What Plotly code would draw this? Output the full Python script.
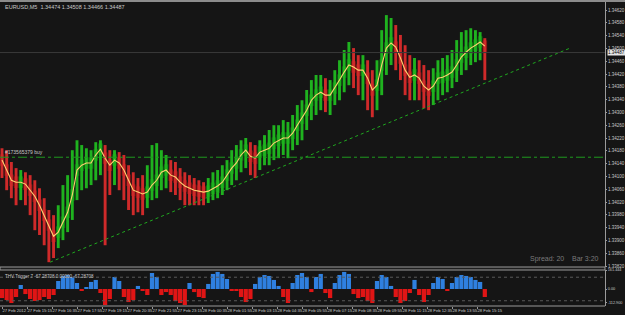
import pandas as pd
import plotly.graph_objects as go
from plotly.subplots import make_subplots

header_text = "EURUSD,M5  1.34474 1.34508 1.34466 1.34487"
indicator_text = "THV Trigger 7 -67.28708 0.00000 -67.28708"
order_text = "#173565379 buy"
status_text = "Spread: 20    Bar 3:20"

first_bar = "2012-02-27 13:55"
bar_freq = "15min"

# smoothed (yellow) average, bar highs and lows
ma = [1.34151, 1.34120, 1.34088, 1.34082, 1.34082, 1.34076, 1.34057, 1.34038, 1.34010, 1.33979,
      1.33948, 1.33913, 1.33926, 1.33957, 1.33988, 1.34042, 1.34120, 1.34135, 1.34142, 1.34142,
      1.34167, 1.34185, 1.34157, 1.34135, 1.34151, 1.34142, 1.34120, 1.34088, 1.34057, 1.34051,
      1.34045, 1.34051, 1.34073, 1.34088, 1.34113, 1.34120, 1.34104, 1.34098, 1.34082, 1.34070,
      1.34063, 1.34057, 1.34054, 1.34051, 1.34054, 1.34063, 1.34070, 1.34082, 1.34104, 1.34126,
      1.34142, 1.34167, 1.34182, 1.34163, 1.34157, 1.34176, 1.34182, 1.34188, 1.34204, 1.34213,
      1.34220, 1.34220, 1.34235, 1.34260, 1.34282, 1.34307, 1.34338, 1.34354, 1.34363, 1.34354,
      1.34354, 1.34376, 1.34401, 1.34426, 1.34448, 1.34442, 1.34432, 1.34432, 1.34407, 1.34370,
      1.34385, 1.34448, 1.34501, 1.34517, 1.34504, 1.34470, 1.34432, 1.34410, 1.34417, 1.34407,
      1.34382, 1.34370, 1.34382, 1.34407, 1.34410, 1.34417, 1.34426, 1.34448, 1.34473, 1.34488,
      1.34501, 1.34510, 1.34520, 1.34507]
high = [1.34188, 1.34182, 1.34145, 1.34126, 1.34120, 1.34113, 1.34104, 1.34088, 1.34063, 1.34032,
        1.33995, 1.33979, 1.34010, 1.34073, 1.34104, 1.34182, 1.34213, 1.34198, 1.34188, 1.34182,
        1.34207, 1.34213, 1.34198, 1.34182, 1.34182, 1.34176, 1.34167, 1.34135, 1.34113, 1.34095,
        1.34104, 1.34135, 1.34198, 1.34204, 1.34182, 1.34167, 1.34151, 1.34145, 1.34126, 1.34113,
        1.34104, 1.34095, 1.34088, 1.34082, 1.34095, 1.34113, 1.34120, 1.34135, 1.34151, 1.34182,
        1.34198, 1.34213, 1.34220, 1.34207, 1.34198, 1.34213, 1.34229, 1.34245, 1.34260, 1.34260,
        1.34276, 1.34270, 1.34292, 1.34323, 1.34338, 1.34370, 1.34401, 1.34417, 1.34417, 1.34407,
        1.34401, 1.34432, 1.34463, 1.34495, 1.34520, 1.34501, 1.34479, 1.34479, 1.34463, 1.34432,
        1.34463, 1.34557, 1.34604, 1.34595, 1.34573, 1.34542, 1.34510, 1.34479, 1.34470, 1.34463,
        1.34448, 1.34432, 1.34438, 1.34463, 1.34470, 1.34479, 1.34495, 1.34526, 1.34551, 1.34557,
        1.34563, 1.34557, 1.34551, 1.34532]
low = [1.34095, 1.34057, 1.34032, 1.34010, 1.34026, 1.34010, 1.33979, 1.33932, 1.33917, 1.33885,
       1.33832, 1.33845, 1.33876, 1.33901, 1.33926, 1.33964, 1.34026, 1.34057, 1.34063, 1.34073,
       1.34088, 1.34104, 1.33885, 1.34042, 1.34073, 1.34057, 1.34026, 1.33995, 1.33979, 1.33988,
       1.33979, 1.34001, 1.34026, 1.34032, 1.34057, 1.34063, 1.34051, 1.34042, 1.34026, 1.34010,
       1.34010, 1.34010, 1.34010, 1.34010, 1.34017, 1.34026, 1.34032, 1.34042, 1.34057, 1.34073,
       1.34088, 1.34113, 1.34126, 1.34104, 1.34095, 1.34120, 1.34135, 1.34135, 1.34151, 1.34157,
       1.34167, 1.34157, 1.34182, 1.34198, 1.34213, 1.34245, 1.34276, 1.34292, 1.34307, 1.34301,
       1.34292, 1.34323, 1.34338, 1.34363, 1.34385, 1.34376, 1.34354, 1.34338, 1.34307, 1.34285,
       1.34307, 1.34354, 1.34417, 1.34448, 1.34432, 1.34401, 1.34354, 1.34338, 1.34338, 1.34338,
       1.34313, 1.34307, 1.34323, 1.34338, 1.34354, 1.34363, 1.34376, 1.34395, 1.34417, 1.34432,
       1.34448, 1.34457, 1.34463, 1.34401]

# THV trigger histogram
trigger = [-77, -94, -119, -68, 34, -43, -85, -102, -94, -68,
           -85, -51, 68, 111, 119, 102, 51, -17, 9, 60,
           77, -34, -136, -85, 102, 68, -68, -111, -94, 26,
           -17, -51, 136, 102, -51, -26, -51, -102, -119, -136,
           51, -26, -68, -77, 43, 128, 145, 128, 85, -17,
           -9, -68, -111, -85, 43, 102, 119, 111, 77, 26,
           -68, -119, 51, 119, 136, 102, -26, 102, 128, -34,
           -77, 51, 119, 145, 128, -43, -77, -68, -102, -119,
           68, 119, 102, 26, -68, -119, -102, -34, 77, -51,
           -111, -51, 51, 102, 85, -17, 51, 102, 119, 111,
           102, 77, 60, -68]
trigger_levels = [100, -100]
trigger_max = 161.444
trigger_min = -112.900

tick_times = ["2012-02-27 13:55", "2012-02-27 15:15", "2012-02-27 16:35", "2012-02-27 17:55",
              "2012-02-27 19:15", "2012-02-27 20:35", "2012-02-27 21:55", "2012-02-27 23:15",
              "2012-02-28 00:35", "2012-02-28 01:55", "2012-02-28 03:15", "2012-02-28 04:35",
              "2012-02-28 05:55", "2012-02-28 07:15", "2012-02-28 08:35", "2012-02-28 09:55",
              "2012-02-28 11:15", "2012-02-28 12:35", "2012-02-28 13:55", "2012-02-28 15:15"]
tick_labels = ["27 Feb 2012", "27 Feb 15:15", "27 Feb 16:35", "27 Feb 17:55", "27 Feb 19:15",
               "27 Feb 20:35", "27 Feb 21:55", "27 Feb 23:15", "28 Feb 00:35", "28 Feb 01:55",
               "28 Feb 03:15", "28 Feb 04:35", "28 Feb 05:55", "28 Feb 07:15", "28 Feb 08:35",
               "28 Feb 09:55", "28 Feb 11:15", "28 Feb 12:35", "28 Feb 13:55", "28 Feb 15:15"]
price_ticks = [1.34620, 1.34580, 1.34540, 1.34500, 1.34460, 1.34420, 1.34380, 1.34340, 1.34300,
               1.34260, 1.34220, 1.34180, 1.34140, 1.34100, 1.34060, 1.34020, 1.33980, 1.33940,
               1.33900, 1.33860, 1.33820]

trend_times = ["2012-02-27 16:29", "2012-02-28 20:13"]
trend_prices = [1.33832, 1.34501]
buy_price = 1.34160
bid_price = 1.34487

x_range = ["2012-02-27 13:48:36", "2012-02-28 22:04:36"]
price_range = [1.33817, 1.34645]
trigger_range = [-144.5, 161.444]

# ---------------------------------------------------------------
times = pd.date_range(first_bar, periods=len(ma), freq=bar_freq)
bar_ms = pd.Timedelta(bar_freq).total_seconds() * 1000
n = len(ma)
rising = [(ma[i] >= ma[i - 1]) if i > 0 else (ma[1] >= ma[0]) for i in range(n)]

BG = "#151515"
GRID = "#9a9a9a"
TXT = "#c8c8c8"
FONT = "Liberation Sans"
W_PLOT = 605.0
R_MARGIN = 20

fig = make_subplots(rows=2, cols=1, shared_xaxes=True, vertical_spacing=0.0)

band_half = 0.00018
fig.add_trace(go.Bar(x=times, y=[2 * band_half] * n, base=[v - band_half for v in ma],
                     width=bar_ms, marker=dict(color=["#0d640d" if r else "#761212" for r in rising],
                                               line=dict(width=0)),
                     hoverinfo="skip"), row=1, col=1)
fig.add_trace(go.Bar(x=times, y=[h - l for h, l in zip(high, low)], base=low,
                     width=bar_ms * 0.62,
                     marker=dict(color=["#1fb21f" if r else "#cf2a2a" for r in rising],
                                 line=dict(width=0))), row=1, col=1)
fig.add_trace(go.Scatter(x=times, y=ma, mode="lines",
                         line=dict(color="#ffd070", width=1.1)), row=1, col=1)
fig.add_trace(go.Scatter(x=pd.to_datetime(trend_times), y=trend_prices, mode="lines",
                         line=dict(color="#1fa81f", width=1, dash="dot")), row=1, col=1)

fig.add_trace(go.Bar(x=times, y=trigger, width=bar_ms * 0.9,
                     marker=dict(color=["#2f80e0" if v >= 0 else "#e01515" for v in trigger],
                                 line=dict(width=0))), row=2, col=1)

# plot area: y from 2px to 306px (304px); main pane 2..267, sub pane 270..306
H_PLOT = 304.0
sub_top = 36 / H_PLOT
main_bot = 39 / H_PLOT

fig.update_layout(
    width=625, height=315, margin=dict(l=0, r=R_MARGIN, t=2, b=9, autoexpand=False),
    paper_bgcolor=BG, plot_bgcolor=BG, showlegend=False, barmode="overlay",
    font=dict(family=FONT, size=6, color=TXT),
)
fig.update_xaxes(range=x_range, showgrid=False, zeroline=False, showline=False, automargin=False)
fig.update_xaxes(showticklabels=False, ticks="", row=1, col=1)
fig.update_xaxes(tickvals=pd.to_datetime(tick_times), ticktext=tick_labels, ticks="outside",
                 ticklen=2, tickcolor=GRID, ticklabelposition="outside right", tickangle=0,
                 tickfont=dict(size=4.2, color=TXT), row=2, col=1)
fig.update_layout(yaxis=dict(domain=[main_bot, 1]), yaxis2=dict(domain=[0, sub_top]))
fig.update_yaxes(side="right", showgrid=False, zeroline=False, showline=True, linecolor=GRID,
                 linewidth=1, ticks="outside", ticklen=1, tickcolor=GRID, automargin=False)
fig.update_yaxes(range=price_range, tickvals=price_ticks, ticktext=[f"{v:.5f}" for v in price_ticks],
                 tickfont=dict(size=4.5, color=TXT), row=1, col=1)
fig.update_yaxes(range=trigger_range, tickvals=[trigger_max, 0, trigger_min],
                 ticktext=[f"{trigger_max:.3f}", "0.00", f"{trigger_min:.3f}"],
                 tickfont=dict(size=3.8, color=TXT), row=2, col=1)

shapes = []
shapes.append(dict(type="rect", xref="paper", yref="paper", x0=0, x1=1 + R_MARGIN / W_PLOT,
                   y0=1, y1=1 + 2 / H_PLOT, fillcolor="#8c8c8c", line=dict(width=0)))
shapes.append(dict(type="rect", xref="paper", yref="paper", x0=0, x1=1,
                   y0=sub_top, y1=main_bot, fillcolor="#1e1e1e", line=dict(color=GRID, width=1)))
shapes.append(dict(type="line", xref="paper", yref="paper", x0=0, x1=1, y0=0, y1=0,
                   line=dict(color=GRID, width=1)))
shapes.append(dict(type="line", xref="paper", yref="y", x0=0, x1=1, y0=bid_price, y1=bid_price,
                   line=dict(color="#3a3a3a", width=1)))
shapes.append(dict(type="line", xref="paper", yref="y", x0=0, x1=1, y0=buy_price, y1=buy_price,
                   line=dict(color="#1f9a1f", width=1, dash="dashdot")))
for lv in trigger_levels:
    shapes.append(dict(type="line", xref="paper", yref="y2", x0=0, x1=1, y0=lv, y1=lv,
                       line=dict(color="#5a5a5a", width=1, dash="dot")))
fig.update_layout(shapes=shapes)

ann = [
    dict(text=header_text, xref="paper", yref="paper", x=3 / W_PLOT, y=1 - 5 / H_PLOT,
         xanchor="left", yanchor="middle", showarrow=False, font=dict(size=5.5, color=TXT)),
    dict(text=order_text, xref="paper", yref="y", x=3 / W_PLOT, y=buy_price,
         xanchor="left", yanchor="bottom", showarrow=False, font=dict(size=5, color=TXT)),
    dict(text=status_text, xref="paper", yref="paper", x=601 / W_PLOT, y=main_bot + 2 / H_PLOT,
         xanchor="right", yanchor="bottom", showarrow=False, font=dict(size=7, color="#7a7a7a")),
    dict(text=indicator_text, xref="paper", yref="paper", x=3 / W_PLOT, y=sub_top - 2 / H_PLOT,
         xanchor="left", yanchor="top", showarrow=False, font=dict(size=4.5, color=TXT)),
    dict(text=f"{bid_price:.5f}", xref="paper", yref="y", x=(W_PLOT + 2) / W_PLOT, y=bid_price,
         xanchor="left", yanchor="middle", showarrow=False, bgcolor="#e6e6e6",
         borderpad=0, font=dict(size=4.5, color="#000000")),
]
fig.update_layout(annotations=ann)

fig.write_html("out.html")
